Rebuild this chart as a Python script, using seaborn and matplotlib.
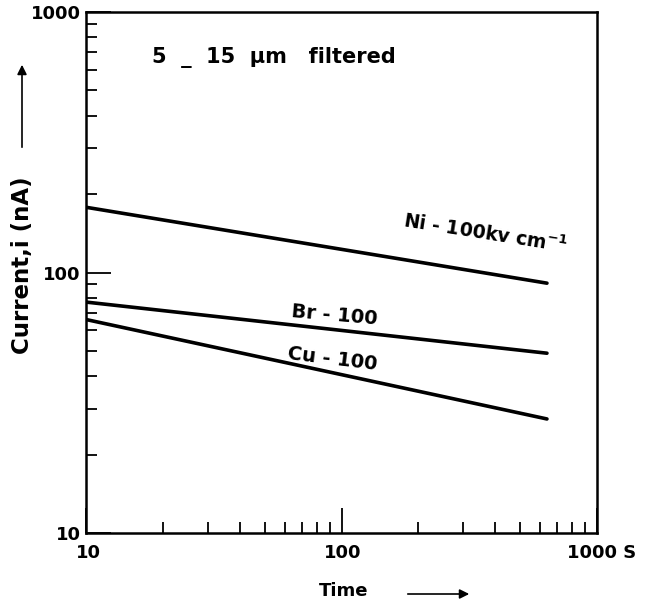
import matplotlib
matplotlib.use("Agg")
import matplotlib.pyplot as plt
import matplotlib.transforms as mtransforms
import seaborn as sns
import pandas as pd

# ---- data ----
time_s = [10, 637]
ni_current = [178, 91]
br_current = [77, 49]
cu_current = [66, 27.4]
series_names = ["Ni", "Br", "Cu"]
x_ticks = [10, 100, 1000]
x_tick_labels = ["10", "100", "1000 S"]
y_ticks = [10, 100, 1000]
y_tick_labels = ["10", "100", "1000"]

df = pd.DataFrame({
    "Time": time_s * 3,
    "Current": ni_current + br_current + cu_current,
    "series": [s for s in series_names for _ in time_s],
})

sns.set_theme(style="ticks")
plt.rcParams["font.family"] = ["DejaVu Sans"]
plt.rcParams["text.color"] = "black"
plt.rcParams["font.weight"] = "bold"
plt.rcParams["mathtext.default"] = "bf"

W, H = 647, 603
fig = plt.figure(figsize=(W / 100, H / 100), dpi=100)
ax = fig.add_axes([86 / W, 1 - 533 / H, 511 / W, 521 / H])

sns.lineplot(data=df, x="Time", y="Current", hue="series",
             palette=["black"] * 3, legend=False, linewidth=2.6, ax=ax)

ax.set_xscale("log")
ax.set_yscale("log")
ax.set_xlim(10, 1000)
ax.set_ylim(10, 1000)
ax.set_xticks(x_ticks)
ax.set_xticklabels(x_tick_labels)
ax.set_yticks(y_ticks)
ax.set_yticklabels(y_tick_labels)
ax.set_xlabel("")
ax.set_ylabel("")

for sp in ax.spines.values():
    sp.set_visible(True)
    sp.set_color("black")
    sp.set_linewidth(1.8)

ax.tick_params(axis="both", which="both", bottom=True, left=True, top=False, right=False)
ax.tick_params(axis="both", which="major", direction="in", length=18, width=1.3,
               colors="black", labelsize=13, pad=5)
ax.tick_params(axis="both", which="minor", direction="in", length=8, width=1.3,
               colors="black")
ax.tick_params(axis="y", which="major", pad=4)
ax.tick_params(axis="x", which="major", pad=8)
for lab in ax.get_xticklabels() + ax.get_yticklabels():
    lab.set_fontweight("bold")

# small horizontal shifts of x tick labels as drawn in the reference
for lab, dx in zip(ax.get_xticklabels(), [2, 1, 3]):
    lab.set_transform(lab.get_transform() +
                      mtransforms.ScaledTranslation(dx / 72, 0, fig.dpi_scale_trans))

# line labels
ax.text(365, 142, r"Ni - 100kv cm$^{-1}$", fontsize=13.5, rotation=-9,
        ha="center", va="center", rotation_mode="anchor", fontweight="bold")
ax.text(93.5, 68.5, "Br - 100", fontsize=14, rotation=-5,
        ha="center", va="center", rotation_mode="anchor", fontweight="bold")
ax.text(92, 46.7, "Cu - 100", fontsize=14, rotation=-7,
        ha="center", va="center", rotation_mode="anchor", fontweight="bold")

# title inside plot
ax.text(0.13, 0.913, "5  _  15  \u00b5m   filtered", transform=ax.transAxes,
        fontsize=15, ha="left", va="center", fontweight="bold")

# axis labels with arrows
fig.text(23 / W, 1 - 265 / H, "Current,i (nA)", rotation=90, fontsize=16.5,
         ha="center", va="center", fontweight="bold")
ax.annotate("", xy=(22 / W, 1 - 62 / H), xytext=(22 / W, 1 - 150 / H),
            xycoords="figure fraction", textcoords="figure fraction",
            arrowprops=dict(arrowstyle="-|>", color="black", lw=1.2,
                            mutation_scale=14))
fig.text(344 / W, 1 - 591 / H, "Time", fontsize=13, ha="center", va="center",
         fontweight="bold")
ax.annotate("", xy=(472 / W, 1 - 594 / H), xytext=(405 / W, 1 - 594 / H),
            xycoords="figure fraction", textcoords="figure fraction",
            arrowprops=dict(arrowstyle="-|>", color="black", lw=1.2,
                            mutation_scale=14))

fig.savefig("out.png", dpi=100, facecolor="white")
